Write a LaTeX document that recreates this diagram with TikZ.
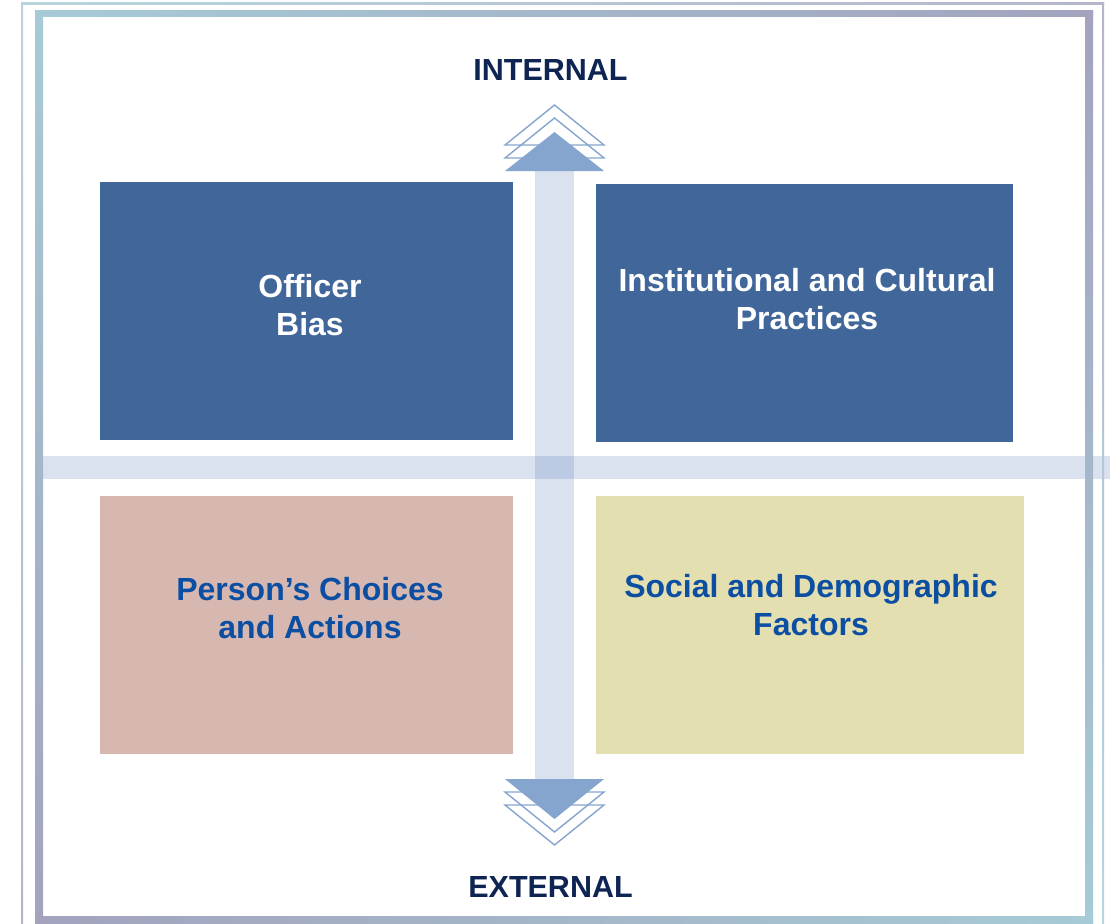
\documentclass[tikz,border=0pt]{standalone}
\usepackage{fontspec}
\setmainfont{Liberation Sans}
\definecolor{boxblue}{RGB}{65,102,153}
\definecolor{boxrose}{RGB}{214,184,177}
\definecolor{boxkhaki}{RGB}{227,223,176}
\definecolor{navy}{RGB}{14,36,82}
\definecolor{txtblue}{RGB}{11,78,162}
\definecolor{bandc}{RGB}{70,110,180}
\definecolor{arrowc}{RGB}{133,165,207}
\definecolor{teal}{RGB}{166,203,214}
\definecolor{purp}{RGB}{163,163,190}
\tikzset{
  box/.style={draw=none, inner sep=0pt, anchor=north west},
  whitetxt/.style={text=white, font=\fontsize{32}{38}\selectfont\bfseries, anchor=base, inner sep=0pt},
  bluetxt/.style={text=txtblue, font=\fontsize{32}{38}\selectfont\bfseries, anchor=base, inner sep=0pt},
  axistxt/.style={text=navy, font=\fontsize{30.5}{36}\selectfont\bfseries, anchor=base, inner sep=0pt},
  band/.style={fill=bandc, fill opacity=0.2, draw=none},
  chev/.style={draw=arrowc, line width=1.4pt, line join=miter},
  head/.style={fill=arrowc, draw=none}
}
\begin{document}
\begin{tikzpicture}[x=1pt,y=-1pt]
\useasboundingbox (0,0) rectangle (1110,923);
\fill[white] (0,0) rectangle (1110,923);
% bands
\fill[band] (535,171) rectangle (574,779);
\fill[band] (43,456) rectangle (1110,479);
% outer thin frame
\shade[left color=teal!80, right color=purp!80] (21,2.5) rectangle (1104,4.5);
\shade[top color=teal!80, bottom color=purp!80] (21,2.5) rectangle (23,923);
\shade[top color=purp!80, bottom color=teal!80] (1102,2.5) rectangle (1104,923);
% inner thick frame
\shade[left color=teal, right color=purp] (35,10.5) rectangle (1093,17);
\shade[top color=teal, bottom color=purp] (35,10.5) rectangle (43,923);
\shade[top color=purp, bottom color=teal] (1085,10.5) rectangle (1093,923);
\shade[left color=purp, right color=teal] (35,916.5) rectangle (1093,923);
% boxes
\node[box, fill=boxblue, minimum width=413pt, minimum height=258pt] (ob) at (100,182) {};
\node[box, fill=boxblue, minimum width=417pt, minimum height=258pt] (ic) at (596,184) {};
\node[box, fill=boxrose, minimum width=413pt, minimum height=258pt] (pc) at (100,496) {};
\node[box, fill=boxkhaki, minimum width=428pt, minimum height=258pt] (sd) at (596,496) {};
% texts
\node[whitetxt] (ob1) at (310,297) {Officer};
\node[whitetxt] (ob2) at (310,335) {Bias};
\node[whitetxt] (ic1) at (807,291) {Institutional and Cultural};
\node[whitetxt] (ic2) at (807,329) {Practices};
\node[bluetxt] (pc1) at (310,600) {Person’s Choices};
\node[bluetxt] (pc2) at (310,638) {and Actions};
\node[bluetxt] (sd1) at (811,597) {Social and Demographic};
\node[bluetxt] (sd2) at (811,635) {Factors};
\node[axistxt] (int) at (550.5,81) {INTERNAL};
\node[axistxt] (ext) at (550.5,897) {EXTERNAL};
% top arrowhead
\draw[chev] (505,145) -- (554.5,105) -- (604,145) -- cycle;
\draw[chev] (505,158) -- (554.5,118) -- (604,158) -- cycle;
\fill[head] (505,171) -- (554.5,132) -- (604,171) -- cycle;
% bottom arrowhead
\draw[chev] (505,805) -- (554.5,845) -- (604,805) -- cycle;
\draw[chev] (505,792) -- (554.5,832) -- (604,792) -- cycle;
\fill[head] (505,779) -- (554.5,819) -- (604,779) -- cycle;
\end{tikzpicture}
\end{document}
